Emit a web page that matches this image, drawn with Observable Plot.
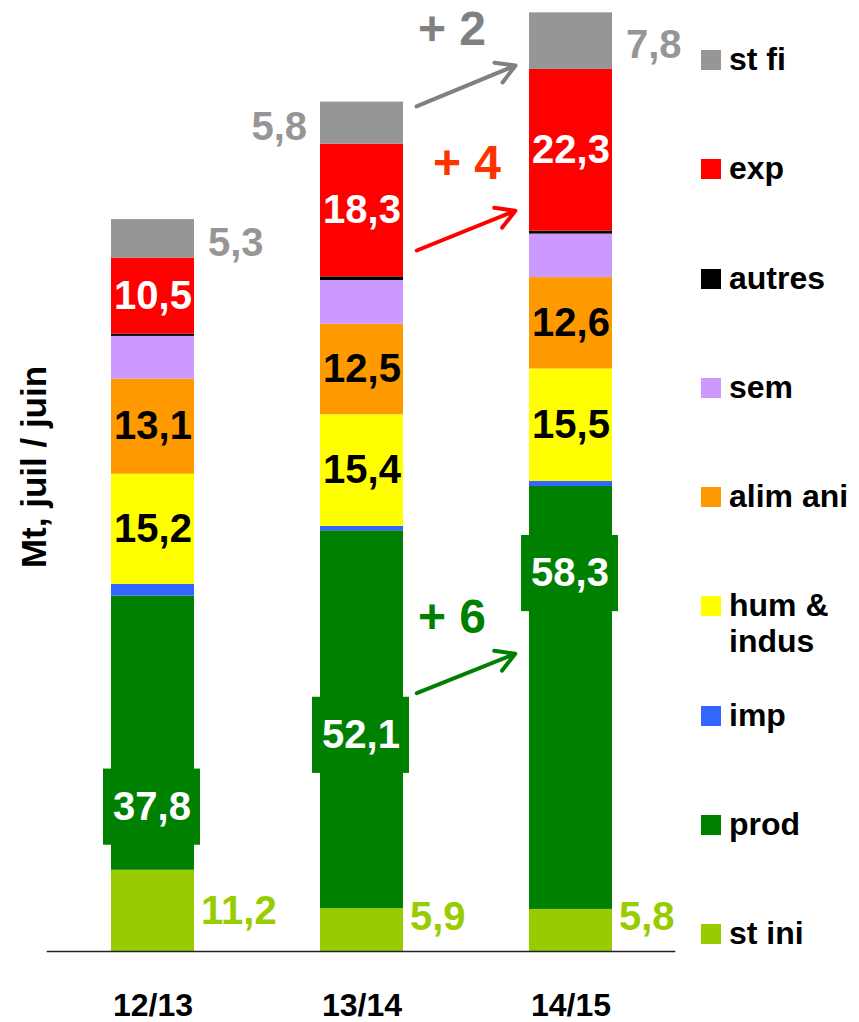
<!DOCTYPE html>
<html><head><meta charset="utf-8">
<script src="https://cdn.jsdelivr.net/npm/d3@7"></script>
<script src="https://cdn.jsdelivr.net/npm/@observablehq/plot@0.6"></script>
<style>
body{margin:0;background:#fff;font-family:"Liberation Sans",Arial,sans-serif;}
#wrap{position:relative;width:859px;height:1022px;overflow:hidden;}
.sw{position:absolute;width:20px;height:20px;left:701px;}
.lt{position:absolute;left:729px;font-weight:bold;font-size:32px;line-height:36px;color:#000;white-space:pre;}
</style></head><body><div id="wrap"></div>
<script>
// ---- data ----
const years = ["12/13", "13/14", "14/15"];
const series = ["st ini", "prod", "imp", "hum & indus", "alim ani", "sem", "autres", "exp", "st fi"];
const legendLabels = ["st ini", "prod", "imp", "hum &\nindus", "alim ani", "sem", "autres", "exp", "st fi"];
const colors = ["#99CC00", "#008000", "#3366FF", "#FFFF00", "#FF9900", "#CC99FF", "#000000", "#FF0000", "#969696"];
const stIni    = [11.2, 5.9, 5.8];
const prod     = [37.8, 52.1, 58.3];
const imp      = [1.6, 0.6, 0.7];
const humIndus = [15.2, 15.4, 15.5];
const alimAni  = [13.1, 12.5, 12.6];
const sem      = [5.9, 6.0, 6.0];
const autres   = [0.3, 0.5, 0.4];
const exp      = [10.5, 18.3, 22.3];
const stFi     = [5.3, 5.8, 7.8];
const yLabel = "Mt, juil / juin";

// annotation settings (in data units)
const prodLabelAt = [19.9, 29.8, 52.1];        // where the boxed prod label sits
const stFiSide = ["right", "left", "right"];
const arrowsAnn = [
  {series: "st fi", values: stFi, from: 113.4, to: 125.3, color: "#808080", text: "#808080", at: 127.1, dx: 90},
  {series: "exp",   values: exp,  from: 93.6,  to: 105.2, color: "#FF0000", text: "#FF3300", at: 108.6, dx: 105},
  {series: "prod",  values: prod, from: 32.6,  to: 44.1,  color: "#008000", text: "#008000", at: 46.0,  dx: 90}
];

// ---- build stacked table ----
const valuesBySeries = [stIni, prod, imp, humIndus, alimAni, sem, autres, exp, stFi];
const rows = [];
years.forEach((yr, i) => {
  let acc = 0;
  series.forEach((s, k) => {
    const v = valuesBySeries[k][i];
    rows.push({year: yr, idx: i, series: s, value: v, y0: acc, y1: acc + v, mid: acc + v / 2});
    acc += v;
  });
});
const fmt = v => v.toFixed(1).replace(".", ",");
const whiteLabels = rows.filter(d => d.series === "exp");
const blackLabels = rows.filter(d => d.series === "alim ani" || d.series === "hum & indus");
const prodRows = rows.filter(d => d.series === "prod").map(d => ({...d, at: prodLabelAt[d.idx]}));
const stIniRows = rows.filter(d => d.series === "st ini").map(d => ({...d, at: Math.max(d.mid, 4.7)}));
const stFiRows = rows.filter(d => d.series === "st fi");

const marks = [
  Plot.barY(rows, {x: "year", y1: "y0", y2: "y1", fill: "series"}),
  Plot.barY(prodRows, {x: "year", y1: d => d.at - 5.25, y2: d => d.at + 5.25, fill: colors[1], insetLeft: -8, insetRight: -6}),
  Plot.text(prodRows, {x: "year", y: "at", text: d => fmt(d.value), fill: "white", fontSize: 40, fontWeight: "bold", dx: -1}),
  Plot.text(whiteLabels, {x: "year", y: "mid", text: d => fmt(d.value), fill: "white", fontSize: 40, fontWeight: "bold"}),
  Plot.text(blackLabels, {x: "year", y: "mid", text: d => fmt(d.value), fill: "black", fontSize: 40, fontWeight: "bold"}),
  Plot.text(stIniRows, {x: "year", y: "at", text: d => fmt(d.value), fill: colors[0], fontSize: 40, fontWeight: "bold", textAnchor: "start", dx: 48}),
  Plot.text(stFiRows.filter(d => stFiSide[d.idx] === "right"), {x: "year", y: "mid", text: d => fmt(d.value), fill: colors[8], fontSize: 40, fontWeight: "bold", textAnchor: "start", dx: 55, dy: 4}),
  Plot.text(stFiRows.filter(d => stFiSide[d.idx] === "left"), {x: "year", y: "mid", text: d => fmt(d.value), fill: colors[8], fontSize: 40, fontWeight: "bold", textAnchor: "end", dx: -55, dy: 4}),
  Plot.ruleY([0], {stroke: "#222", strokeWidth: 1.5}),
  ...arrowsAnn.map(a => Plot.arrow([a], {x1: () => years[1], x2: () => years[2], y1: "from", y2: "to",
      stroke: a.color, strokeWidth: 4, headLength: 8, headAngle: 60, insetStart: 59, insetEnd: 60})),
  ...arrowsAnn.map(a => Plot.text([a], {x: () => years[1], y: "at", dx: a.dx,
      text: d => "+ " + Math.round(d.values[2] - d.values[1]), fill: a.text, fontSize: 48, fontWeight: "bold"})),
  Plot.text([yLabel], {frameAnchor: "left", text: d => d, rotate: -90, textAnchor: "middle", dx: -12, dy: -13, fontSize: 35, fontWeight: "bold", fill: "black"}),
  Plot.axisX({tickSize: 0, tickPadding: 42, fontSize: 32, fontWeight: "bold", label: null})
];

const chart = Plot.plot({
  width: 859, height: 1022,
  marginLeft: 46.75, marginRight: 183.75, marginTop: 8, marginBottom: 71,
  x: {domain: years, paddingInner: 0.604, paddingOuter: 0.302, label: null},
  y: {domain: [0, 130], axis: null},
  color: {domain: series, range: colors},
  style: {fontFamily: "'Liberation Sans', Arial, sans-serif", background: "white", color: "black"},
  marks
});
const wrap = document.getElementById("wrap");
wrap.appendChild(chart);

// legend (top to bottom: reverse stack order)
const order = series.map((s, k) => k).reverse();
order.forEach((k, j) => {
  const c = 60 + j * 109.25;
  const sw = document.createElement("div");
  sw.className = "sw";
  sw.style.top = (c - 10) + "px";
  sw.style.background = colors[k];
  wrap.appendChild(sw);
  const lt = document.createElement("div");
  lt.className = "lt";
  lt.style.top = (c - 19) + "px";
  lt.textContent = legendLabels[k];
  wrap.appendChild(lt);
});
</script></body></html>
